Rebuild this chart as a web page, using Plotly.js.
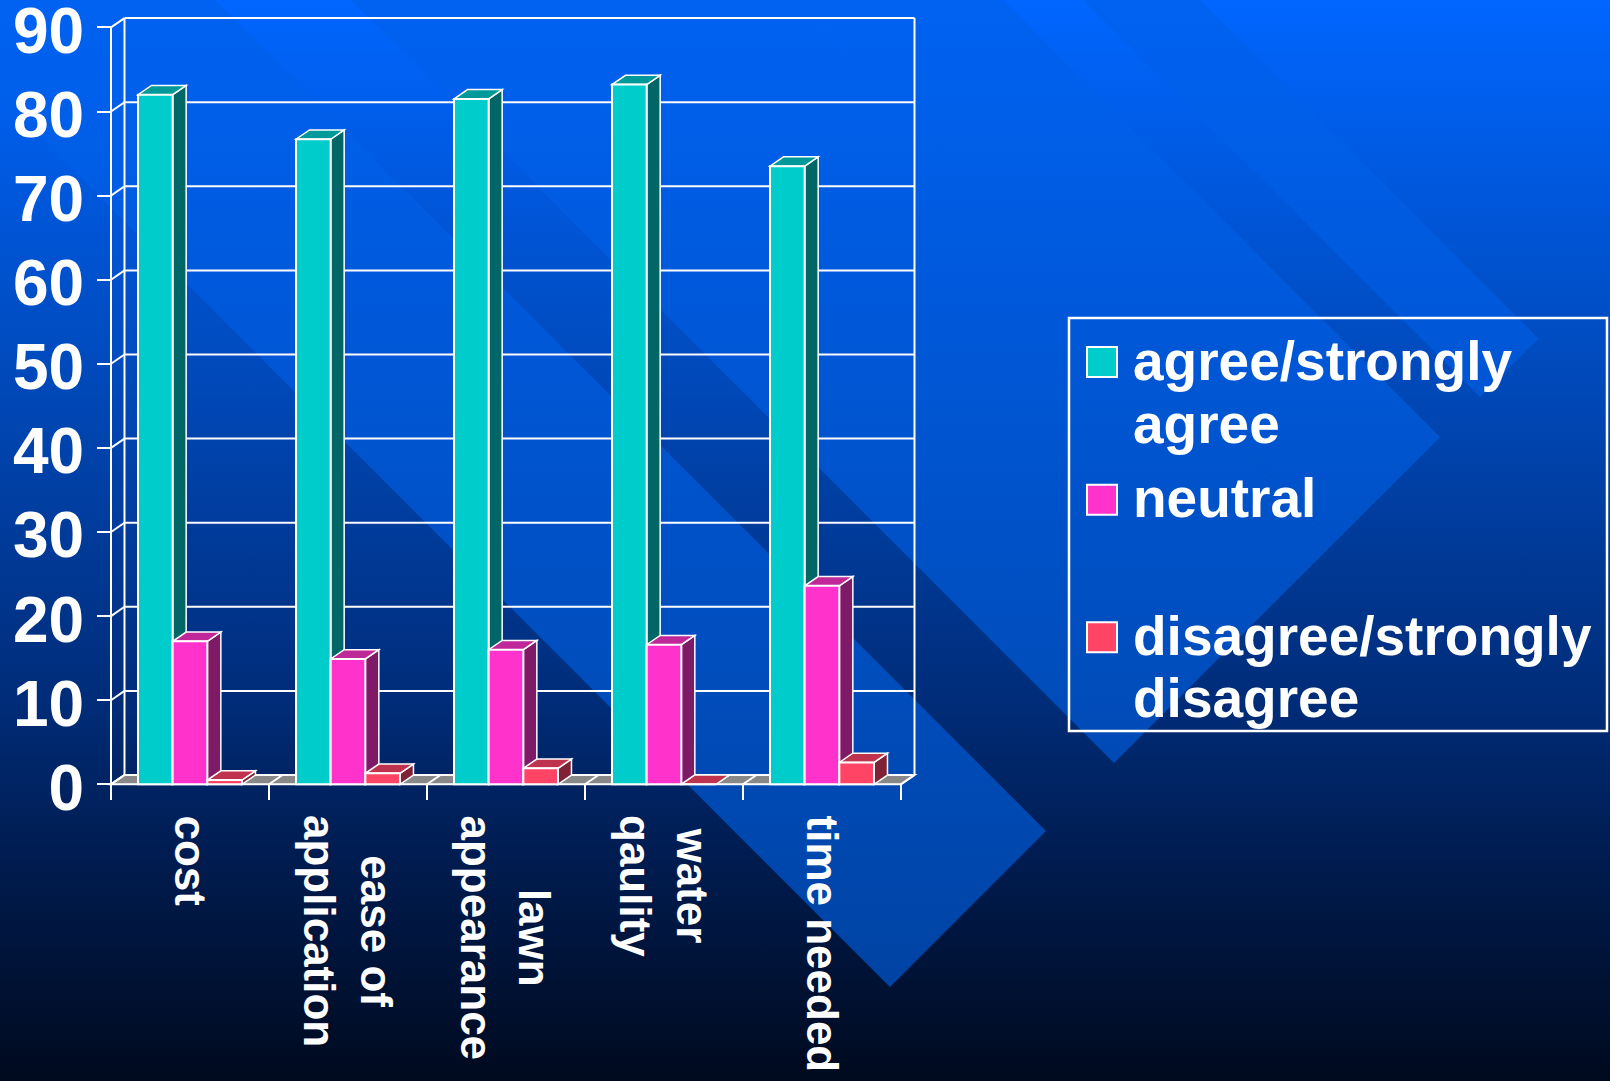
<!DOCTYPE html>
<html>
<head>
<meta charset="utf-8">
<script src="https://cdn.plot.ly/plotly-3.0.1.min.js"></script>
<style>
html,body{margin:0;padding:0;width:1610px;height:1081px;overflow:hidden;background:#000a1e;}
#bg{position:absolute;left:0;top:0;}
#chart{position:absolute;left:0;top:0;width:1610px;height:1081px;}
</style>
</head>
<body>
<svg id="bg" width="1610" height="1081" xmlns="http://www.w3.org/2000/svg">
  <defs>
    <linearGradient id="bgGrad" x1="0" y1="0" x2="0" y2="1081" gradientUnits="userSpaceOnUse">
      <stop offset="0" stop-color="#0066FF"/>
      <stop offset="0.35" stop-color="#0049BA"/>
      <stop offset="0.65" stop-color="#002C78"/>
      <stop offset="0.8" stop-color="#001B4E"/>
      <stop offset="1" stop-color="#000A1E"/>
    </linearGradient>
    <linearGradient id="bandGrad" x1="0" y1="0" x2="0" y2="1081" gradientUnits="userSpaceOnUse">
      <stop offset="0" stop-color="#0062F2"/>
      <stop offset="1" stop-color="#00409C"/>
    </linearGradient>
  </defs>
  <rect x="0" y="0" width="1610" height="1081" fill="url(#bgGrad)"/>
  <g id="bands" fill="url(#bandGrad)"></g>
</svg>
<div id="chart"></div>
<script>
// ---------------- data ----------------
const categories = ["cost", "ease of application", "lawn appearance", "water qaulity", "time needed"];
const categoryLabels = ["cost", "ease of<br>application", "lawn<br>appearance", "water<br>qaulity", "time needed"];
const seriesNames = ["agree/strongly agree", "neutral", "disagree/strongly disagree"];
const legendLines = [["agree/strongly", "agree"], ["neutral"], ["disagree/strongly", "disagree"]];
const agreeValues = [82.0, 76.7, 81.5, 83.2, 73.5];
const neutralValues = [17.0, 14.9, 16.0, 16.6, 23.6];
const disagreeValues = [0.5, 1.3, 1.9, 0, 2.6];
const yTickValues = [0, 10, 20, 30, 40, 50, 60, 70, 80, 90];

// ---------------- background decoration (slide template) ----------------
const bandEdges = [[-1200, -1083], [-1003, -794], [-794, -351], [-215, 97]];
const bandEnd = 1877;
const g = document.getElementById('bands');
bandEdges.forEach(([c1, c2]) => {
  const pts = [
    [-20 - c1, -20],
    [(bandEnd - c1) / 2, (bandEnd + c1) / 2],
    [(bandEnd - c2) / 2, (bandEnd + c2) / 2],
    [-20 - c2, -20]
  ];
  const p = document.createElementNS('http://www.w3.org/2000/svg', 'polygon');
  p.setAttribute('points', pts.map(q => q.join(',')).join(' '));
  g.appendChild(p);
});

// ---------------- geometry ----------------
const W = 1610, H = 1081;
const M = {l: 108, r: 692, t: 16, b: 294, pad: 0};
const plotW = W - M.l - M.r;
const plotH = H - M.t - M.b;
const PX_CAT = 158, PX_UNIT = 8.41;
const xStart = -0.5 - 3 / PX_CAT;
const xRange = [xStart, xStart + plotW / PX_CAT];
const y0px = 784.3;
const plotBottom = H - M.b;
const yStart = -(plotBottom - y0px) / PX_UNIT;
const yRange = [yStart, yStart + plotH / PX_UNIT];
const DX = 13.5 / PX_CAT, DY = 9.3 / PX_UNIT;
const BARGAP = 0.342;
const BW = (1 - BARGAP) / 3;
const nCat = categories.length;
const yMax = yTickValues[yTickValues.length - 1];
const WHITE = '#ffffff';
const FONT = 'Liberation Sans, Arial, Helvetica, sans-serif';
const px2x = X => (X - M.l) / plotW;
const px2y = Y => (plotBottom - Y) / plotH;

const series = [
  {name: seriesNames[0], values: agreeValues, front: '#00CCCC', top: '#009999', side: '#006666'},
  {name: seriesNames[1], values: neutralValues, front: '#FF33CC', top: '#BF2899', side: '#7F1A66'},
  {name: seriesNames[2], values: disagreeValues, front: '#FF4466', top: '#C0334F', side: '#802236'}
];

const shapes = [];
const dataShape = (o) => Object.assign({xref: 'x', yref: 'y', layer: 'below'}, o);
const seg = (x0, y0, x1, y1, w) => dataShape({type: 'line', x0, y0, x1, y1, line: {color: WHITE, width: w || 2}});

// back wall grid lines
yTickValues.forEach(v => {
  if (v > 0) shapes.push(seg(-0.5 + DX, v + DY, nCat - 0.5 + DX, v + DY));
});
// back wall side edges
shapes.push(seg(-0.5 + DX, DY, -0.5 + DX, yMax + DY));
shapes.push(seg(nCat - 0.5 + DX, DY, nCat - 0.5 + DX, yMax + DY));
// front value axis + connectors
shapes.push(seg(-0.5, 0, -0.5, yMax));
yTickValues.forEach(v => shapes.push(seg(-0.5, v, -0.5 + DX, v + DY)));
// floor
shapes.push(dataShape({type: 'path',
  path: `M${-0.5},0 L${nCat - 0.5},0 L${nCat - 0.5 + DX},${DY} L${-0.5 + DX},${DY} Z`,
  fillcolor: '#888888', line: {color: WHITE, width: 2}}));
for (let k = 0; k <= nCat; k++) shapes.push(seg(k - 0.5, 0, k - 0.5 + DX, DY));

// 3D faces of the bars (side + top), computed from the data
categories.forEach((c, i) => {
  series.forEach((s, j) => {
    const x0 = i + (j - 1.5) * BW, x1 = x0 + BW, v = s.values[i];
    shapes.push(dataShape({type: 'path',
      path: `M${x1},0 L${x1 + DX},${DY} L${x1 + DX},${v + DY} L${x1},${v} Z`,
      fillcolor: s.side, line: {color: WHITE, width: 1.5}}));
    shapes.push(dataShape({type: 'path',
      path: `M${x0},${v} L${x1},${v} L${x1 + DX},${v + DY} L${x0 + DX},${v + DY} Z`,
      fillcolor: s.top, line: {color: WHITE, width: 1.5}}));
  });
});

// legend (drawn manually to match the slide's large square keys)
const legendBox = {x0: 1069, x1: 1607, y0: 318, y1: 731};
shapes.push({type: 'rect', xref: 'paper', yref: 'paper', layer: 'above',
  x0: px2x(legendBox.x0), x1: px2x(legendBox.x1), y0: px2y(legendBox.y1), y1: px2y(legendBox.y0),
  line: {color: WHITE, width: 2.5}, fillcolor: 'rgba(0,0,0,0)'});
const keyCenters = [362, 499.7, 637.3];
const lineBaselines = [[380, 443], [517], [655, 717]];
const LEG_FS = 55;
const annotations = [];
series.forEach((s, j) => {
  const cy = keyCenters[j];
  shapes.push({type: 'rect', xref: 'paper', yref: 'paper', layer: 'above',
    x0: px2x(1087), x1: px2x(1117), y0: px2y(cy + 15), y1: px2y(cy - 15),
    fillcolor: s.front, line: {color: WHITE, width: 2}});
  legendLines[j].forEach((t, k) => {
    annotations.push({xref: 'paper', yref: 'paper', x: px2x(1131), y: px2y(lineBaselines[j][k] - 0.3465 * LEG_FS),
      xanchor: 'left', yanchor: 'middle', showarrow: false, text: t,
      font: {family: FONT, size: LEG_FS, color: WHITE, weight: 'bold'}});
  });
});

// category labels (rotated, centred lines)
categoryLabels.forEach((t, i) => {
  annotations.push({xref: 'x', x: categories[i], yref: 'paper', y: px2y(813),
    xanchor: 'center', yanchor: 'top', textangle: 90, align: 'center', showarrow: false, text: t,
    font: {family: FONT, size: 44, color: WHITE, weight: 'bold'}});
});

const traces = series.map(s => ({
  type: 'bar', x: categories, y: s.values, name: s.name,
  marker: {color: s.front, line: {color: WHITE, width: 2}},
  showlegend: false, hoverinfo: 'skip'
}));

const layout = {
  width: W, height: H, margin: M,
  paper_bgcolor: 'rgba(0,0,0,0)', plot_bgcolor: 'rgba(0,0,0,0)',
  barmode: 'group', bargap: BARGAP, bargroupgap: 0, showlegend: false,
  xaxis: {type: 'category', range: xRange, tickson: 'boundaries', ticks: 'outside', ticklen: 15,
    tickwidth: 2, tickcolor: WHITE, showticklabels: false, showgrid: false, zeroline: false,
    showline: false, anchor: 'free', position: (plotBottom - y0px) / plotH, fixedrange: true},
  yaxis: {range: yRange, tickvals: yTickValues, ticks: 'outside', ticklen: 14, tickwidth: 2,
    tickcolor: WHITE, showgrid: false, zeroline: false, showline: false, anchor: 'free',
    position: 3 / plotW, ticklabelstandoff: 0, ticklabelshift: 3, ticklabeloverflow: 'allow', fixedrange: true,
    tickfont: {family: FONT, size: 64, color: WHITE, weight: 'bold'}},
  shapes: shapes,
  annotations: annotations
};

Plotly.newPlot('chart', traces, layout, {staticPlot: true, displayModeBar: false});
</script>
</body>
</html>
